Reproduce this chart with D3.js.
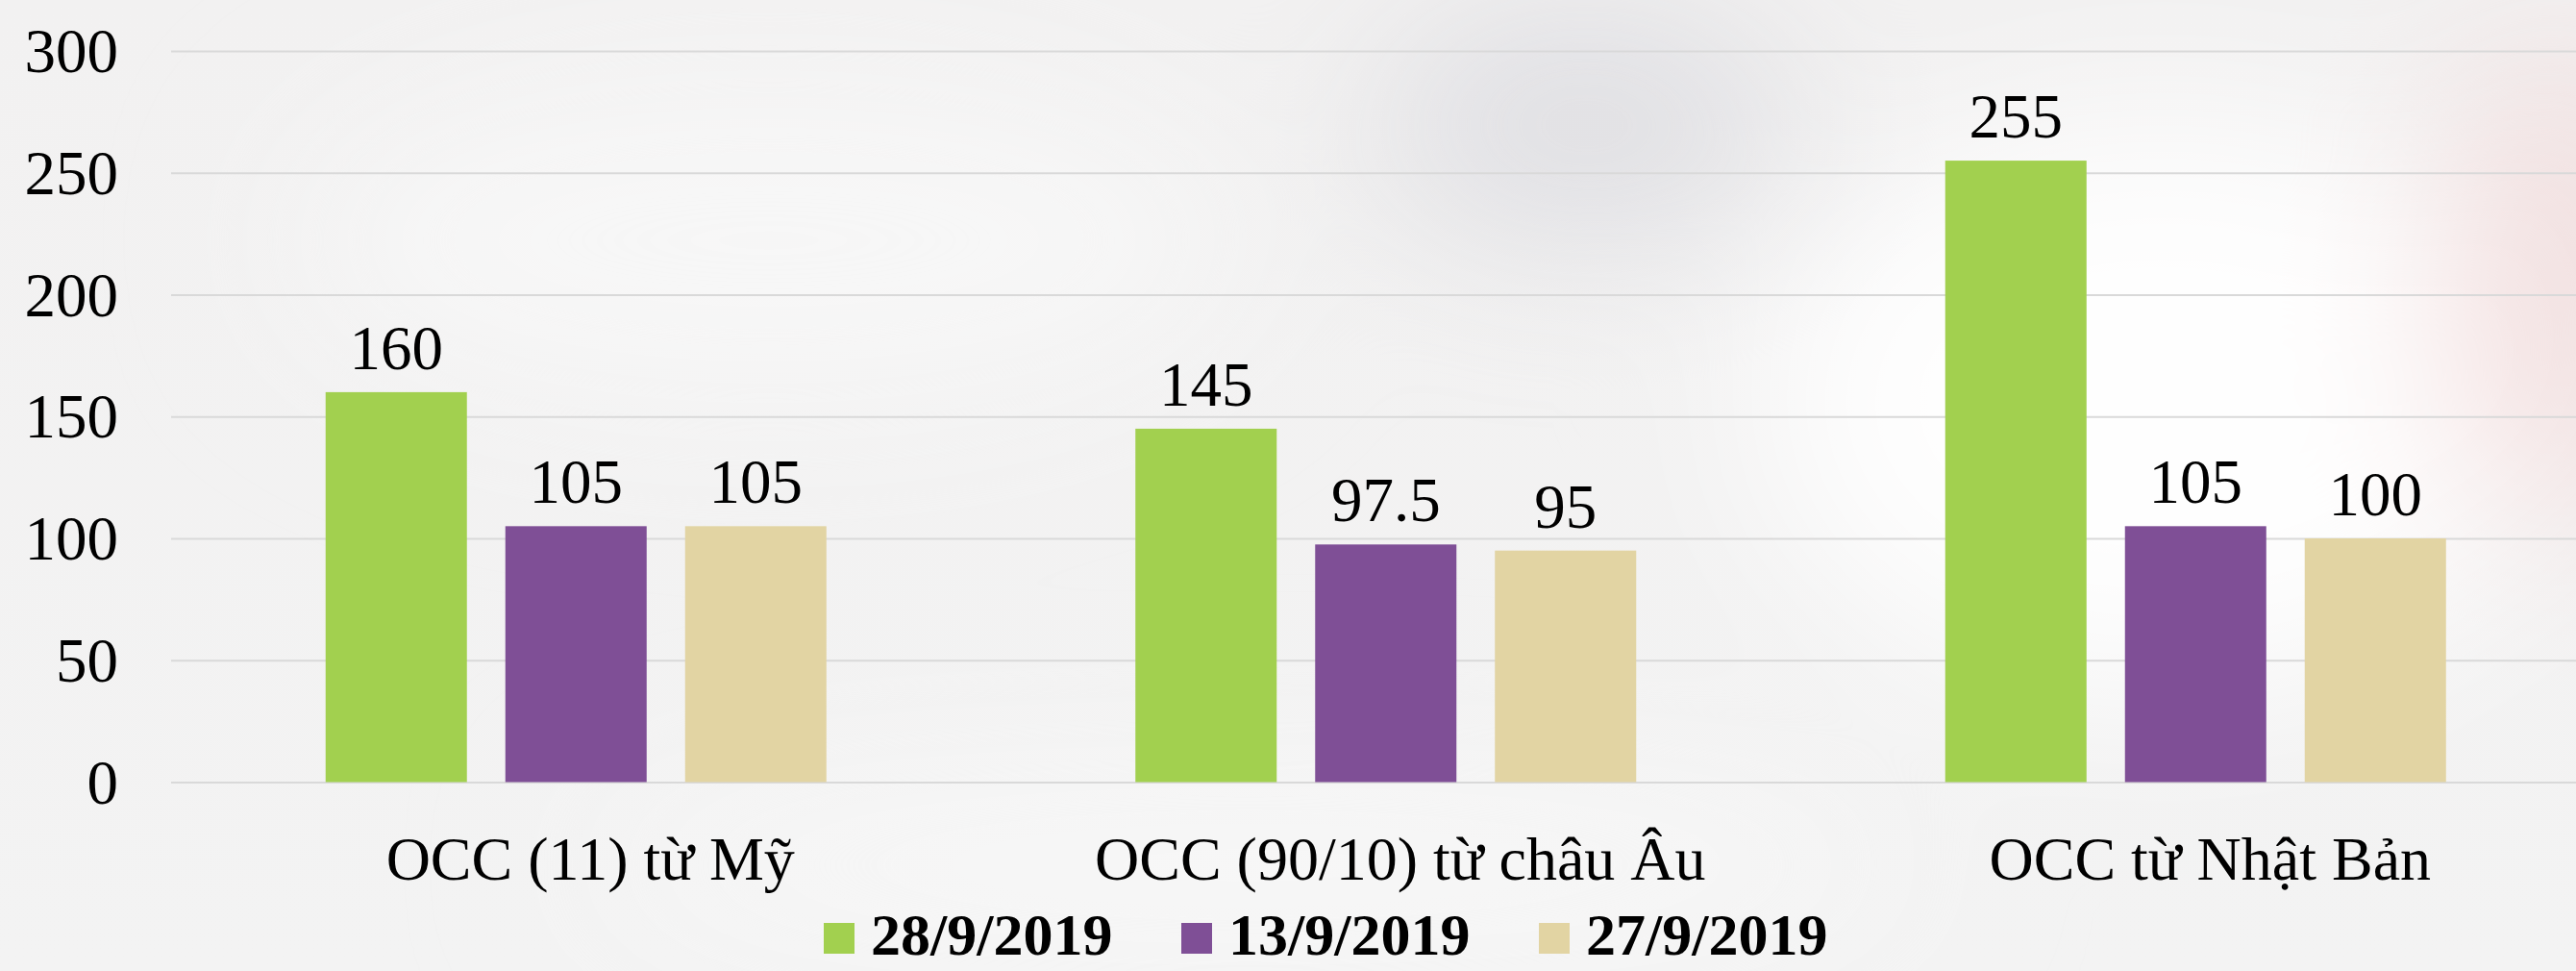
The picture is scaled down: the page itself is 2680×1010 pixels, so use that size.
<!DOCTYPE html>
<html>
<head>
<meta charset="utf-8">
<script src="https://cdn.jsdelivr.net/npm/d3@7"></script>
<style>
  html, body { margin: 0; padding: 0; overflow: hidden; }
  svg { display: block; font-family: "Liberation Serif", "Times New Roman", serif; }
</style>
</head>
<body>
<script>
var categories = ["OCC (11) từ Mỹ", "OCC (90/10) từ châu Âu", "OCC từ Nhật Bản"];
var seriesNames = ["28/9/2019", "13/9/2019", "27/9/2019"];
var series1 = [160, 145, 255];   // 28/9/2019
var series2 = [105, 97.5, 105];  // 13/9/2019
var series3 = [105, 95, 100];    // 27/9/2019
var yTicks = [0, 50, 100, 150, 200, 250, 300];
var colors = ["#a2d04f", "#7f4f96", "#e2d4a3"];

var W = 2680, H = 1010;
var left = 178, bandW = 842.5;

var svg = d3.select("body").append("svg")
    .attr("width", W)
    .attr("height", H);

// background
var defs = svg.append("defs");
var blur = defs.append("filter").attr("id", "blur")
    .attr("x", "-50%").attr("y", "-50%").attr("width", "200%").attr("height", "200%");
blur.append("feGaussianBlur").attr("stdDeviation", 90);

var bg = defs.append("linearGradient").attr("id", "bg")
    .attr("x1", 0).attr("y1", 0).attr("x2", 0).attr("y2", 1);
bg.append("stop").attr("offset", "0%").attr("stop-color", "#f2f1f1");
bg.append("stop").attr("offset", "100%").attr("stop-color", "#f3f3f3");

svg.append("rect").attr("width", W).attr("height", H).attr("fill", "url(#bg)");

var blobs = svg.append("g").attr("filter", "url(#blur)");
blobs.append("ellipse").attr("cx", 1650).attr("cy", 130).attr("rx", 220).attr("ry", 110).attr("fill", "#d8d8dd").attr("opacity", 0.8);
blobs.append("ellipse").attr("cx", 2250).attr("cy", 420).attr("rx", 420).attr("ry", 300).attr("fill", "#ffffff").attr("opacity", 0.9);
blobs.append("ellipse").attr("cx", 2660).attr("cy", 300).attr("rx", 120).attr("ry", 260).attr("fill", "#f1dada").attr("opacity", 0.8);
blobs.append("ellipse").attr("cx", 800).attr("cy", 250).attr("rx", 500).attr("ry", 180).attr("fill", "#f8f8f8").attr("opacity", 0.8);
blobs.append("ellipse").attr("cx", 1300).attr("cy", 900).attr("rx", 700).attr("ry", 90).attr("fill", "#f8f8f8").attr("opacity", 0.9);

// scales
var y = d3.scaleLinear().domain([0, 300]).range([813.5, 53]);

var x0 = d3.scaleBand()
    .domain(categories)
    .range([left, left + bandW * categories.length])
    .paddingInner(0).paddingOuter(0);

var x1 = d3.scaleBand()
    .domain(seriesNames)
    .range([160.75, bandW - 160.75])
    .paddingInner(40 / 187)
    .paddingOuter(0);

// gridlines
var yAxis = d3.axisLeft(y).tickValues(yTicks).tickSize(-(W - left)).tickFormat("");
var grid = svg.append("g").attr("transform", "translate(" + left + ",0)").call(yAxis);
grid.select(".domain").remove();
grid.selectAll(".tick line").attr("stroke", "#d9d9d9").attr("stroke-width", 2);

// y tick labels
svg.append("g").selectAll("text")
    .data(yTicks)
    .enter().append("text")
    .attr("x", 123)
    .attr("y", function(d) { return y(d) + 22; })
    .attr("text-anchor", "end")
    .attr("font-size", 65)
    .attr("fill", "#000")
    .text(function(d) { return d; });

// bars
var rows = categories.map(function(c, i) {
    return { cat: c, values: [series1[i], series2[i], series3[i]] };
});

var groups = svg.append("g").selectAll("g")
    .data(rows)
    .enter().append("g")
    .attr("transform", function(d) { return "translate(" + x0(d.cat) + ",0)"; });

groups.selectAll("rect")
    .data(function(d) { return d.values.map(function(v, j) { return { name: seriesNames[j], v: v, j: j }; }); })
    .enter().append("rect")
    .attr("x", function(d) { return x1(d.name); })
    .attr("y", function(d) { return y(d.v); })
    .attr("width", x1.bandwidth())
    .attr("height", function(d) { return y(0) - y(d.v); })
    .attr("fill", function(d) { return colors[d.j]; });

groups.selectAll("text.val")
    .data(function(d) { return d.values.map(function(v, j) { return { name: seriesNames[j], v: v }; }); })
    .enter().append("text")
    .attr("class", "val")
    .attr("x", function(d) { return x1(d.name) + x1.bandwidth() / 2; })
    .attr("y", function(d) { return y(d.v) - 24; })
    .attr("text-anchor", "middle")
    .attr("font-size", 65)
    .attr("fill", "#000")
    .text(function(d) { return d.v; });

// category labels
svg.append("g").selectAll("text")
    .data(categories)
    .enter().append("text")
    .attr("x", function(d) { return x0(d) + x0.bandwidth() / 2 + 15; })
    .attr("y", 915)
    .attr("text-anchor", "middle")
    .attr("font-size", 64)
    .attr("fill", "#000")
    .text(function(d) { return d; });

// legend
var legend = svg.append("g").selectAll("g")
    .data(seriesNames)
    .enter().append("g")
    .attr("transform", function(d, i) { return "translate(" + (857 + i * 372) + ",0)"; });

legend.append("rect")
    .attr("x", 0).attr("y", 960)
    .attr("width", 32).attr("height", 32)
    .attr("fill", function(d, i) { return colors[i]; });

legend.append("text")
    .attr("x", 49).attr("y", 993)
    .attr("font-size", 62)
    .attr("font-weight", "bold")
    .attr("fill", "#000")
    .text(function(d) { return d; });
</script>
</body>
</html>
